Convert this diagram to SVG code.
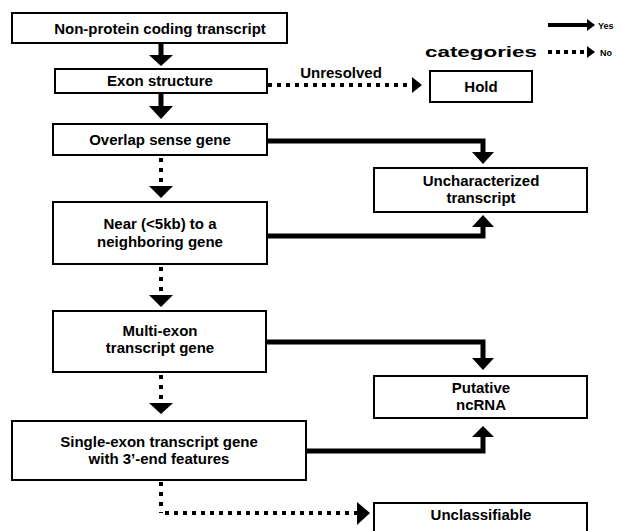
<svg xmlns="http://www.w3.org/2000/svg" width="621" height="531" viewBox="0 0 621 531">
<style>
.box{fill:#fff;stroke:#000;stroke-width:2}
.t{font-family:"Liberation Sans",Arial,sans-serif;font-weight:bold;font-size:15px;fill:#000;text-anchor:middle}
.solid{fill:none;stroke:#000;stroke-width:5}
.dot{fill:none;stroke:#000;stroke-width:4;stroke-dasharray:4 5}
.vdot{fill:none;stroke:#000;stroke-width:4;stroke-dasharray:4 6}
.head{fill:#000}
</style>
<rect width="621" height="531" fill="#fff"/>
<g id="connectors">
<line class="solid" x1="161" y1="43" x2="161" y2="56"/>
<polygon class="head" points="149,55 173,55 161,66"/>
<line class="solid" x1="161" y1="93" x2="161" y2="107"/>
<polygon class="head" points="149,106 173,106 161,119"/>
<line class="vdot" x1="161" y1="158" x2="161" y2="186"/>
<polygon class="head" points="149,186 173,186 161,198"/>
<line class="vdot" x1="161" y1="267" x2="161" y2="295"/>
<polygon class="head" points="149,295 173,295 161,307"/>
<line class="vdot" x1="161" y1="375" x2="161" y2="403"/>
<polygon class="head" points="149,403 173,403 161,414"/>
<polyline class="vdot" points="161,482 161,513"/>
<line class="dot" x1="165" y1="513" x2="357" y2="513"/>
<polygon class="head" points="357,502 357,525 370,513"/>
<line class="dot" x1="268" y1="85" x2="412" y2="85"/>
<polygon class="head" points="412,77 412,93 422,85"/>
<polyline class="solid" points="267,141 483,141 483,153"/>
<polygon class="head" points="472,152 494,152 483,164"/>
<polyline class="solid" points="267,236 483,236 483,226"/>
<polygon class="head" points="472,227 494,227 483,215"/>
<polyline class="solid" points="266,342 483,342 483,359"/>
<polygon class="head" points="472,358 494,358 483,370"/>
<polyline class="solid" points="306,451 483,451 483,436"/>
<polygon class="head" points="472,437 494,437 483,426"/>
</g>
<g id="legend">
<line x1="548" y1="25" x2="588" y2="25" stroke="#000" stroke-width="4"/>
<polygon class="head" points="587,19 587,31 595,25"/>
<text x="598" y="29" font-family="Liberation Sans,Arial,sans-serif" font-weight="bold" font-size="9">Yes</text>
<line x1="548" y1="52" x2="587" y2="52" stroke="#000" stroke-width="4" stroke-dasharray="4 4"/>
<polygon class="head" points="587,46 587,58 595,52"/>
<text x="600" y="56" font-family="Liberation Sans,Arial,sans-serif" font-weight="bold" font-size="9">No</text>
<text x="481" y="57" class="t" font-size="22" textLength="112" lengthAdjust="spacingAndGlyphs">categories</text>
<text x="341" y="78" class="t">Unresolved</text>
</g>
<g id="n1"><rect class="box" x="12" y="13" width="275" height="30"/><text class="t" x="160" y="34">Non-protein coding transcript</text></g>
<g id="n2"><rect class="box" x="55" y="69" width="212" height="24"/><text class="t" x="160" y="86">Exon structure</text></g>
<g id="n3"><rect class="box" x="53" y="124" width="214" height="31"/><text class="t" x="160" y="145">Overlap sense gene</text></g>
<g id="n4"><rect class="box" x="53" y="202" width="214" height="62"/><text class="t" x="160" y="229">Near (&lt;5kb) to a</text><text class="t" x="160" y="247">neighboring gene</text></g>
<g id="n5"><rect class="box" x="53" y="311" width="213" height="61"/><text class="t" x="160" y="336">Multi-exon</text><text class="t" x="160" y="353">transcript gene</text></g>
<g id="n6"><rect class="box" x="12" y="421" width="294" height="59"/><text class="t" x="159" y="447">Single-exon transcript gene</text><text class="t" x="159" y="464">with 3’-end features</text></g>
<g id="hold"><rect class="box" x="430" y="71" width="102" height="31"/><text class="t" x="481" y="92">Hold</text></g>
<g id="unchar"><rect class="box" x="374" y="168" width="213" height="44"/><text class="t" x="481" y="186">Uncharacterized</text><text class="t" x="481" y="203">transcript</text></g>
<g id="putative"><rect class="box" x="374" y="376" width="213" height="42"/><text class="t" x="481" y="393">Putative</text><text class="t" x="481" y="410">ncRNA</text></g>
<g id="unclass"><rect class="box" x="374" y="503" width="213" height="40"/><text class="t" x="481" y="520">Unclassifiable</text></g>
</svg>
